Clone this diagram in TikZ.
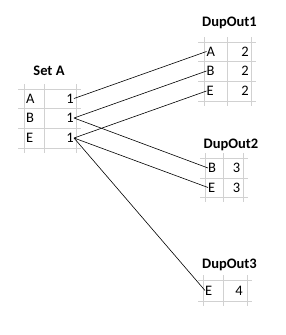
\documentclass[tikz,border=0pt]{standalone}
\usepackage{fontspec}
\setmainfont{Carlito}
\usetikzlibrary{positioning}

\begin{document}
\begin{tikzpicture}[x=1pt,y=-1pt,
  gridline/.style={draw=black!18,line width=0.8pt},
  cell/.style={inner sep=0pt,font=\fontsize{14.5}{17}\selectfont},
  title/.style={inner sep=0pt,font=\fontsize{14.5}{17}\selectfont\bfseries},
  link/.style={draw=black,line width=0.6pt}]
\useasboundingbox (0,0) rectangle (285,335);

% Set A
\foreach \y in {89,108,128,148} \draw[gridline] (18,\y) -- (81,\y);
\foreach \x in {24,44,76} \draw[gridline] (\x,84) -- (\x,153);
\node[title] (setA) at (49,71) {Set A};
\node[cell,anchor=west] (sA) at (26,98.5) {A};
\node[cell,anchor=west] (sB) at (26,118) {B};
\node[cell,anchor=west] (sE) at (26,138) {E};
\node[cell,anchor=east] (sAv) at (74,98.5) {1};
\node[cell,anchor=east] (sBv) at (74,118) {1};
\node[cell,anchor=east] (sEv) at (74,138) {1};

% DupOut1
\foreach \y in {42,61,81,101} \draw[gridline] (198,\y) -- (256,\y);
\foreach \x in {204,227,251} \draw[gridline] (\x,37) -- (\x,106);
\node[title] (out1) at (229.5,23) {DupOut1};
\node[cell,anchor=west] (oA) at (206.5,51.5) {A};
\node[cell,anchor=west] (oB) at (206.5,71) {B};
\node[cell,anchor=west] (oE) at (206.5,91) {E};
\node[cell,anchor=east] (oAv) at (249,51.5) {2};
\node[cell,anchor=east] (oBv) at (249,71) {2};
\node[cell,anchor=east] (oEv) at (249,91) {2};

% DupOut2
\foreach \y in {158,178,197} \draw[gridline] (200,\y) -- (248,\y);
\foreach \x in {205,223,243} \draw[gridline] (\x,153) -- (\x,202);
\node[title] (out2) at (231,145) {DupOut2};
\node[cell,anchor=west] (tB) at (208,168) {B};
\node[cell,anchor=west] (tE) at (208,187.5) {E};
\node[cell,anchor=east] (tBv) at (240.5,168) {3};
\node[cell,anchor=east] (tEv) at (240.5,187.5) {3};

% DupOut3
\foreach \y in {280,301} \draw[gridline] (198,\y) -- (252,\y);
\foreach \x in {203,223,247} \draw[gridline] (\x,275) -- (\x,306);
\node[title] (out3) at (229.5,265) {DupOut3};
\node[cell,anchor=west] (uE) at (205,290.5) {E};
\node[cell,anchor=east] (uEv) at (243,290.5) {4};

% links
\draw[link] (sAv.east) -- (oA.west);
\draw[link] (sBv.east) -- (oB.west);
\draw[link] (sEv.east) -- (oE.west);
\draw[link] (sBv.east) -- (tB.west);
\draw[link] (sEv.east) -- (tE.west);
\draw[link] (sEv.east) -- (uE.west);
\end{tikzpicture}
\end{document}
